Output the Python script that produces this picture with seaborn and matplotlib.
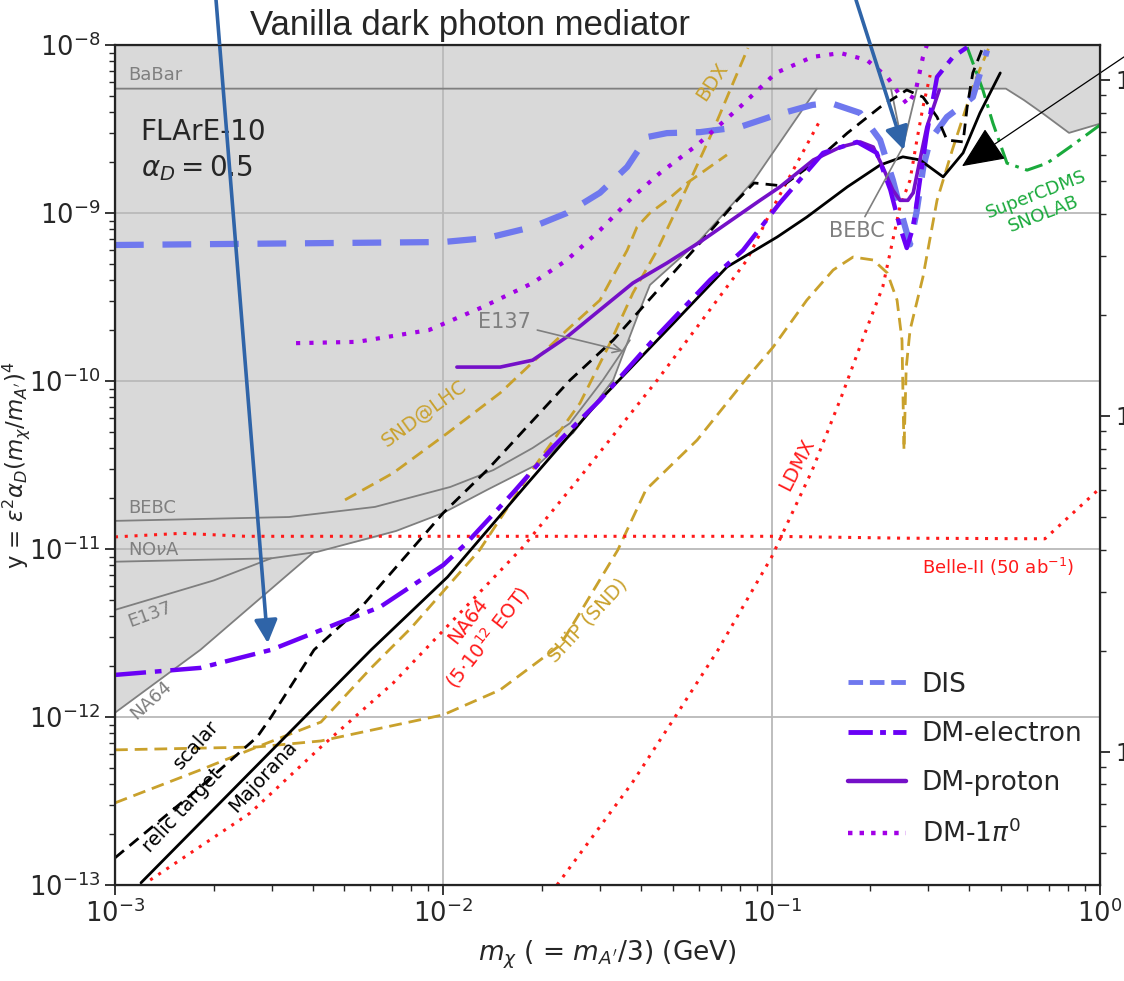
import matplotlib
matplotlib.use("Agg")
import matplotlib.pyplot as plt
import seaborn as sns
from matplotlib.lines import Line2D

# ---------------- curves: dark-matter mass m_chi [GeV] vs y ----------------
dis_m = [1e-3, 1e-2, 1.36e-2, 1.87e-2, 2.38e-2, 3.0e-2, 3.63e-2, 4.17e-2, 4.8e-2, 6.05e-2,
         8.0e-2, 0.103, 0.133, 0.151, 0.186, 0.214, 0.234, 0.252, 0.264, 0.276,
         0.29, 0.304, 0.342, 0.375, 0.41, 0.453]
dis_y = [6.45e-10, 6.72e-10, 7.1e-10, 8.26e-10, 1.0e-9, 1.32e-9, 1.88e-9, 2.83e-9, 2.99e-9, 3.03e-9,
         3.25e-9, 3.83e-9, 4.4e-9, 4.52e-9, 3.94e-9, 2.72e-9, 1.57e-9, 9.0e-10, 6.5e-10, 1.0e-9,
         1.9e-9, 2.72e-9, 3.73e-9, 4.27e-9, 4.9e-9, 9.3e-9]

ele_m = [1e-3, 1.82e-3, 2.99e-3, 4.81e-3, 6.4e-3, 1e-2, 1.18e-2, 1.63e-2, 2.16e-2, 3.0e-2,
         4.35e-2, 6.5e-2, 8.18e-2, 0.106, 0.1435, 0.182, 0.209, 0.23, 0.246, 0.258,
         0.27, 0.283, 0.297, 0.319, 0.357, 0.394]
ele_y = [1.78e-12, 1.96e-12, 2.51e-12, 3.63e-12, 4.5e-12, 8.03e-12, 1.09e-11, 2.16e-11, 4.05e-11, 7.7e-11,
         1.75e-10, 4.0e-10, 6.0e-10, 1.15e-9, 2.28e-9, 2.65e-9, 2.28e-9, 1.37e-9, 8.26e-10, 6.19e-10,
         8.26e-10, 1.57e-9, 2.99e-9, 6.45e-9, 8.5e-9, 9.7e-9]

pro_m = [1.10e-2, 1.49e-2, 1.87e-2, 2.38e-2, 3.0e-2, 3.78e-2, 4.8e-2, 6.05e-2, 9.22e-2, 0.106,
         0.134, 0.162, 0.186, 0.204, 0.218, 0.234, 0.246, 0.26, 0.27, 0.283, 0.297, 0.324]
pro_y = [1.21e-10, 1.21e-10, 1.33e-10, 1.83e-10, 2.65e-10, 3.83e-10, 5.04e-10, 6.72e-10, 1.19e-9, 1.43e-9,
         2.07e-9, 2.47e-9, 2.65e-9, 2.47e-9, 1.88e-9, 1.37e-9, 1.19e-9, 1.19e-9, 1.32e-9, 2.07e-9, 3.25e-9, 5.4e-9]

pi0_m = [3.56e-3, 5.47e-3, 9.04e-3, 1.32e-2, 1.87e-2, 2.38e-2, 3.0e-2, 3.78e-2, 4.57e-2, 5.93e-2,
         8.0e-2, 0.103, 0.133, 0.162, 0.195, 0.225, 0.246, 0.26, 0.275, 0.289, 0.297]
pi0_y = [1.68e-10, 1.71e-10, 2.01e-10, 2.76e-10, 3.83e-10, 5.25e-10, 7.9e-10, 1.25e-9, 1.73e-9, 2.54e-9,
         4.27e-9, 6.82e-9, 8.49e-9, 8.96e-9, 8.14e-9, 6.45e-9, 5.04e-9, 4.4e-9, 5.4e-9, 8.49e-9, 1.0e-8]

# relic targets
scalar_m = [1e-3, 1.82e-3, 2.71e-3, 2.99e-3, 4.04e-3, 5.7e-3, 1e-2, 1.36e-2, 2.43e-2, 3.29e-2,
            6.05e-2, 7.85e-2, 8.84e-2, 0.108, 0.134, 0.17, 0.214, 0.258, 0.289, 0.319,
            0.342, 0.383, 0.394, 0.41, 0.44]
scalar_y = [1.45e-13, 3.83e-13, 7.6e-13, 1.0e-12, 2.51e-12, 4.64e-12, 1.64e-11, 2.95e-11, 1.01e-10, 1.75e-10,
            6.63e-10, 1.19e-9, 1.51e-9, 1.45e-9, 1.98e-9, 2.99e-9, 4.27e-9, 5.4e-9, 4.9e-9, 3.73e-9,
            2.72e-9, 2.65e-9, 4.27e-9, 6.82e-9, 9.7e-9]
major_m = [1.2e-3, 6.03e-3, 1.03e-2, 1.8e-2, 3.0e-2, 4.8e-2, 7.31e-2, 0.104, 0.128, 0.17,
           0.214, 0.251, 0.283, 0.333, 0.383, 0.431, 0.497]
major_y = [1.03e-13, 2.51e-12, 6.81e-12, 2.44e-11, 7.7e-11, 2.01e-10, 4.77e-10, 7.2e-10, 9.46e-10, 1.43e-9,
           1.93e-9, 2.16e-9, 2.07e-9, 1.64e-9, 2.28e-9, 3.94e-9, 6.82e-9]

# proton-beam projections
snd_m = [5.02e-3, 7.03e-3, 1.03e-2, 1.49e-2, 2.38e-2, 3.0e-2, 3.63e-2, 3.89e-2, 4.26e-2, 4.8e-2, 5.53e-2, 7.31e-2]
snd_y = [1.96e-11, 2.83e-11, 4.9e-11, 8.49e-11, 2.01e-10, 3.03e-10, 6.0e-10, 8.26e-10, 1.0e-9, 1.19e-9, 1.51e-9, 2.22e-9]
bdx_m = [1e-3, 1.82e-3, 2.71e-3, 4.24e-3, 6.03e-3, 7.98e-3, 1.29e-2, 1.93e-2, 2.61e-2, 3.22e-2,
         3.78e-2, 4.48e-2, 5.53e-2, 6.64e-2, 7.63e-2, 8.47e-2]
bdx_y = [3.08e-13, 4.84e-13, 6.63e-13, 9.33e-13, 1.96e-12, 3.39e-12, 9.86e-12, 3.25e-11, 7.4e-11, 1.68e-10,
         3.34e-10, 6.0e-10, 1.43e-9, 3.12e-9, 5.94e-9, 9.6e-9]
ship_m = [1e-3, 2.71e-3, 4.24e-3, 1e-2, 1.49e-2, 2.27e-2, 2.64e-2, 3.4e-2, 4.14e-2, 5.93e-2,
          8.3e-2, 0.101, 0.128, 0.154, 0.177, 0.204, 0.225, 0.241, 0.2495, 0.253,
          0.257, 0.264, 0.289, 0.319, 0.355, 0.414, 0.469]
ship_y = [6.37e-13, 6.63e-13, 7.2e-13, 1.03e-12, 1.45e-12, 2.68e-12, 4.34e-12, 9.86e-12, 2.25e-11, 4.45e-11,
          1.01e-10, 1.59e-10, 3.03e-10, 4.58e-10, 5.47e-10, 5.25e-10, 4.4e-10, 3.03e-10, 1.75e-10, 3.88e-11,
          1.2e-10, 2.01e-10, 4.16e-10, 1.19e-9, 2.37e-9, 5.94e-9, 1.07e-8]

# electron-beam / e+e- projections
na64p_m = [1.28e-3, 2.58e-3, 4.24e-3, 7.03e-3, 9.57e-3, 1.75e-2, 2.61e-2, 4.48e-2, 6.05e-2, 8.41e-2, 9.89e-2, 0.139]
na64p_y = [1.07e-13, 2.68e-13, 6.63e-13, 1.59e-12, 2.99e-12, 1.03e-11, 2.68e-11, 1.01e-10, 2.21e-10, 5.25e-10, 1.0e-9, 3.43e-9]
ldmx_m = [2.22e-2, 3.76e-2, 5.08e-2, 6.87e-2, 0.1, 0.133, 0.163, 0.194, 0.218, 0.246, 0.264, 0.277, 0.289, 0.304]
ldmx_y = [1e-13, 4.05e-13, 1e-12, 2.51e-12, 8.96e-12, 2.95e-11, 8.03e-11, 2.01e-10, 3.63e-10, 1.09e-9,
          1.57e-9, 2.72e-9, 4.27e-9, 6.63e-9]
belle_m = [1e-3, 1.6e-3, 2.5e-3, 0.1, 0.25, 0.68, 1.0]
belle_y = [1.18e-11, 1.24e-11, 1.19e-11, 1.19e-11, 1.16e-11, 1.15e-11, 2.3e-11]

# direct detection
cdms_m = [0.394, 0.44, 0.472, 0.521, 0.6, 0.69, 0.81, 1.0]
cdms_y = [9.7e-9, 5.4e-9, 3.43e-9, 1.98e-9, 1.8e-9, 1.98e-9, 2.47e-9, 3.34e-9]

# existing limits (gray)
babar_m = [1e-3, 0.517, 0.587, 0.667, 0.805, 1.0]
babar_y = [5.5e-9, 5.5e-9, 4.7e-9, 3.94e-9, 3.0e-9, 3.4e-9]
bebc_m = [1e-3, 3.39e-3, 6.19e-3, 1.05e-2, 1.42e-2, 1.87e-2, 2.43e-2, 3.06e-2, 3.7e-2]
bebc_y = [1.47e-11, 1.55e-11, 1.78e-11, 2.34e-11, 2.95e-11, 3.99e-11, 5.6e-11, 1.01e-10, 1.75e-10]
nova_m = [1e-3, 2.99e-3, 4.12e-3, 7.18e-3, 1e-2, 1.36e-2, 1.97e-2, 2.48e-2, 3.29e-2]
nova_y = [8.4e-12, 8.8e-12, 9.6e-12, 1.28e-11, 1.64e-11, 2.25e-11, 3.25e-11, 4.9e-11, 1.01e-10]
e137_m = [1e-3, 2.0e-3, 2.99e-3]
e137_y = [4.34e-12, 6.5e-12, 8.8e-12]
na64x_m = [1e-3, 1.82e-3, 4.04e-3]
na64x_y = [1.06e-12, 2.51e-12, 9.6e-12]
bebc_res_m = [0.231, 0.251, 0.277]
bebc_res_y = [5.5e-9, 2.47e-9, 5.5e-9]
# lower edge of the combined excluded region
env_m = [1e-3, 1.82e-3, 4.04e-3, 6.4e-3, 1e-2, 1.36e-2, 1.97e-2, 2.48e-2, 3.29e-2, 3.97e-2,
         4.26e-2, 6.05e-2, 8.84e-2, 0.1374]
env_y = [1.06e-12, 2.51e-12, 9.6e-12, 1.18e-11, 1.64e-11, 2.25e-11, 3.25e-11, 4.9e-11, 1.01e-10, 2.65e-10,
         3.73e-10, 6.9e-10, 1.57e-9, 5.5e-9]

# ---------------- style ----------------
sns.set_style("ticks")
plt.rcParams["font.family"] = ["DejaVu Sans"]
plt.rcParams["mathtext.fontset"] = "dejavusans"

C_DIS = "#6f78ee"
C_ELE = "#6a00f6"
C_PRO = "#7510c8"
C_PI0 = "#a200e6"
C_GOLD = "#c9a12c"
C_RED = "#ff1a1a"
C_GRAY = "#7f7f7f"
C_GREEN = "#1aaa3c"

fig = plt.figure(figsize=(11.24, 9.81), dpi=100)
ax = fig.add_axes([0.1023, 0.0979, 0.8763, 0.8562])
ax.set_xscale("log")
ax.set_yscale("log")
ax.set_xlim(1e-3, 1.0)
ax.set_ylim(1e-13, 1e-8)

# excluded region
poly_m = [1e-3, 1.0] + babar_m[::-1] + env_m[::-1]
poly_y = [1e-8, 1e-8] + babar_y[::-1] + env_y[::-1]
ax.fill(poly_m, poly_y, color="#d9d9d9", lw=0, zorder=0.5)

ax.grid(True, which="major", color="#b9b9b9", lw=1.3)
ax.set_axisbelow("line")


def curve(m, y, color, ls="-", lw=2.0, z=2.0):
    sns.lineplot(x=m, y=y, ax=ax, color=color, linestyle=ls, linewidth=lw,
                 sort=False, estimator=None, legend=False, zorder=z)


# gray boundaries of existing limits
for m, y in [(babar_m, babar_y), (bebc_m, bebc_y), (nova_m, nova_y), (e137_m, e137_y),
             (na64x_m, na64x_y), (env_m[7:], env_y[7:]), (bebc_res_m, bebc_res_y)]:
    curve(m, y, C_GRAY, "-", 1.3, 1.6)

dash_gold = (0, (4.6, 2.5))
dot_red = (0, (1.0, 2.2))
curve(snd_m, snd_y, C_GOLD, dash_gold, 2.0, 2.0)
curve(bdx_m, bdx_y, C_GOLD, dash_gold, 2.0, 2.0)
curve(ship_m, ship_y, C_GOLD, dash_gold, 2.0, 2.0)
curve(na64p_m, na64p_y, C_RED, dot_red, 2.2, 2.1)
curve(ldmx_m, ldmx_y, C_RED, dot_red, 2.2, 2.1)
curve(belle_m, belle_y, C_RED, dot_red, 2.2, 2.1)
curve(cdms_m, cdms_y, C_GREEN, (0, (6, 2.2, 1.2, 2.2)), 2.2, 2.1)

curve(scalar_m, scalar_y, "black", (0, (4.2, 2.6)), 2.0, 3.0)
curve(major_m, major_y, "black", "-", 2.0, 3.0)

curve(dis_m, dis_y, C_DIS, (0, (4.6, 3.0)), 4.5, 2.5)
curve(pi0_m, pi0_y, C_PI0, (0, (1.0, 2.2)), 3.0, 3.5)
curve(pro_m, pro_y, C_PRO, "-", 2.6, 4.0)
curve(ele_m, ele_y, C_ELE, (0, (7, 2, 1.5, 2)), 3.2, 4.2)

# ---------------- curve labels ----------------
def label(x, y, s, color, size=14, rot=0, ha="center", **kw):
    ax.text(x, y, s, color=color, fontsize=size, rotation=rot, ha=ha, va="center",
            rotation_mode="anchor", zorder=6, **kw)


label(1.095e-3, 6.63e-9, "BaBar", C_GRAY, 13, ha="left")
label(1.095e-3, 1.75e-11, "BEBC", C_GRAY, 13, ha="left")
label(1.095e-3, 9.86e-12, r"NO$\nu$A", C_GRAY, 13, ha="left")
label(1.278e-3, 4.05e-12, "E137", C_GRAY, 13, rot=20)
label(1.29e-3, 1.26e-12, "NA64", C_GRAY, 13, rot=42)
label(8.73e-3, 6.36e-11, "SND@LHC", C_GOLD, 14, rot=36)
label(6.58e-2, 6.02e-9, "BDX", C_GOLD, 14, rot=56)
label(2.76e-2, 3.78e-12, "SHiP (SND)", C_GOLD, 14, rot=47)
label(1.77e-3, 6.81e-13, "scalar", "black", 14, rot=48)
label(1.61e-3, 2.76e-13, "relic target", "black", 14, rot=47)
label(2.82e-3, 4.4e-13, "Majorana", "black", 14, rot=47)
label(1.28e-2, 3.3e-12, "NA64\n" + r"(5$\cdot$10$^{12}$ EOT)", C_RED, 14, rot=52,
      multialignment="center")
label(0.119, 3.16e-11, "LDMX", C_RED, 14, rot=63)
label(0.49, 7.8e-12, r"Belle-II (50 ab$^{-1}$)", C_RED, 13)
label(0.658, 1.12e-9, "SuperCDMS\nSNOLAB", C_GREEN, 13, rot=21, multialignment="center")

ax.annotate("E137", xy=(3.52e-2, 1.51e-10), xytext=(1.54e-2, 2.24e-10), color=C_GRAY,
            fontsize=15, ha="center", va="center", zorder=6,
            arrowprops=dict(arrowstyle="->", color=C_GRAY, lw=1.2, shrinkA=2, shrinkB=0))
ax.annotate("BEBC", xy=(0.251, 2.47e-9), xytext=(0.182, 7.8e-10), color=C_GRAY,
            fontsize=15, ha="center", va="center", zorder=6,
            arrowprops=dict(arrowstyle="-", color=C_GRAY, lw=1.2, shrinkA=1, shrinkB=0))

ax.text(0.026, 0.913, "FLArE-10\n" + r"$\alpha_D = 0.5$", transform=ax.transAxes,
        fontsize=20, ha="left", va="top", linespacing=1.3, zorder=6)

# ---------------- axes ----------------
ax.set_xlabel(r"$m_\chi$ ( = $m_{A'}$/3) (GeV)", fontsize=19, labelpad=8)
ax.set_ylabel(r"y = $\epsilon^2\alpha_D(m_\chi/m_{A'})^4$", fontsize=16.5)
ax.yaxis.set_label_coords(-0.0838, 0.5)
ax.tick_params(which="major", length=7, width=1.3, labelsize=18.5, direction="out")
ax.tick_params(which="minor", length=4, width=1.0, direction="out")
for s in ax.spines.values():
    s.set_visible(True)
    s.set_linewidth(1.6)
    s.set_color("#222222")

ax2 = ax.twinx()
ax2.set_yscale("log")
ax2.set_ylim(10 ** -5.396, 10 ** -2.896)
ax2.tick_params(which="major", length=7, width=1.3, labelsize=17, direction="out")
ax2.tick_params(which="minor", length=4, width=1.0, direction="out")
ax2.grid(False)

# ---------------- legend ----------------
handles = [
    Line2D([], [], color=C_DIS, lw=3.5, ls=(0, (3.0, 1.4))),
    Line2D([], [], color=C_ELE, lw=3.5, ls=(0, (5, 1.5, 1.2, 1.5))),
    Line2D([], [], color=C_PRO, lw=3.2, ls="-"),
    Line2D([], [], color=C_PI0, lw=3.2, ls=(0, (1.0, 1.6))),
]
ax.legend(handles, ["DIS", "DM-electron", "DM-proton", r"DM-1$\pi^0$"], loc="upper left",
          bbox_to_anchor=(0.744, 0.254), frameon=False, fontsize=19, handlelength=2.2,
          handletextpad=0.6, labelspacing=0.88, borderpad=0, borderaxespad=0)

# ---------------- figure annotations ----------------
fig.text(0.418, 0.974, "Vanilla dark photon mediator", fontsize=25, ha="center", va="center",
         family="Liberation Sans")

blue = "#2f64a8"
for target, tail in [((2.92e-3, 2.75e-12), (0.1922, 1.0)), ((0.253, 2.37e-9), (0.7616, 1.0))]:
    ax.annotate("", xy=target, xycoords="data", xytext=tail, textcoords="figure fraction",
                arrowprops=dict(arrowstyle="-|>,head_length=0.7,head_width=0.35", color=blue,
                                lw=2.6, shrinkA=0, shrinkB=0, mutation_scale=20),
                annotation_clip=False, zorder=8)
ax.annotate("", xy=(0.38, 1.9e-9), xycoords="data", xytext=(1.0, 0.942),
            textcoords="figure fraction",
            arrowprops=dict(arrowstyle="-|>,head_length=1.35,head_width=0.6", color="black",
                            lw=0.9, shrinkA=0, shrinkB=0, mutation_scale=20),
            annotation_clip=False, zorder=8)

fig.savefig("out.png", dpi=100)
